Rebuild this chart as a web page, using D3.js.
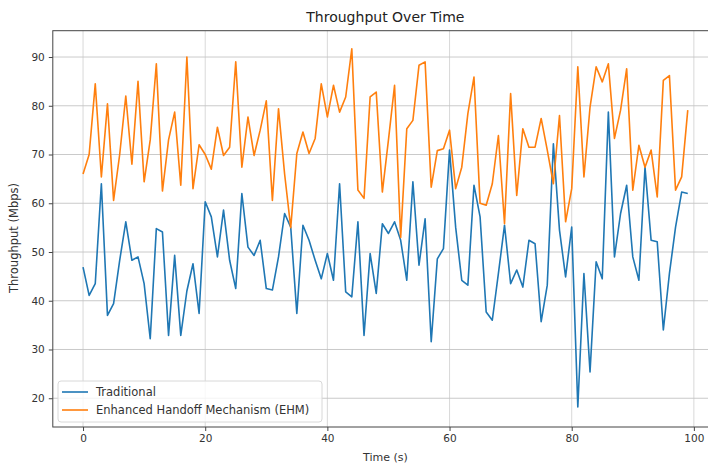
<!DOCTYPE html>
<html>
<head>
<meta charset="utf-8">
<script src="https://cdn.jsdelivr.net/npm/d3@7"></script>
<style>
  body { margin: 0; background: #fff; }
  svg { display: block; font-family: "DejaVu Sans", sans-serif; }
</style>
</head>
<body>
<div id="chart"></div>
<script>
// time axis: 0..99 s
const timeSteps = d3.range(100);

// Traditional throughput (Mbps)
const traditional = [
  46.9, 41.1, 43.5, 64, 37, 39.4, 48.3, 56.2, 48.3, 49,
  43.5, 32.2, 54.8, 54.1, 32.9, 49.3, 32.9, 42, 47.6, 37.4,
  60.3, 57.2, 49, 58.6, 48.3, 42.5, 62, 51, 49.3, 52.4,
  42.5, 42.2, 49, 57.9, 55.1, 37.4, 55.5, 52.4, 48.3, 44.5,
  49.7, 44.2, 64, 41.8, 40.8, 56.2, 32.9, 49.7, 41.5, 55.8,
  53.8, 56.2, 52.4, 44.2, 64.4, 47.3, 56.8, 31.6, 48.6, 50.7,
  70.9, 55.1, 44.2, 43.2, 63.7, 57.2, 37.7, 36, 45.6, 55.5,
  43.5, 46.3, 42.8, 52.4, 51.7, 35.7, 43.2, 72.2, 54.5, 44.9,
  55.1, 18.2, 45.6, 25.4, 48, 44.5, 78.7, 49, 57.9, 63.7,
  49, 44.2, 67.4, 52.4, 52.1, 34, 45.6, 55.1, 62.3, 62
];

// Enhanced Handoff Mechanism throughput (Mbps)
const ehm = [
  66, 70, 84.5, 65.4, 80.4, 60.6, 70, 82, 68, 85,
  64.4, 73, 88.6, 62.5, 73, 78.7, 63.7, 90, 63, 72,
  70, 67, 75.6, 69.8, 71.5, 89, 67.4, 77.7, 69.8, 75,
  81, 60.6, 79.4, 66, 55, 70.2, 74.6, 70.2, 73.3, 84.5,
  77.7, 84.2, 78.7, 81.8, 91.7, 62.7, 61, 81.8, 82.8, 62.3,
  73, 84.2, 53, 75.3, 77, 88.3, 89, 63.3, 70.8, 71.2,
  75, 63, 67.4, 78.4, 85.9, 60, 59.6, 64, 73.9, 55.8,
  82.5, 61.6, 75.3, 71.5, 71.5, 77.4, 70.9, 64, 78, 56.2,
  63, 88, 65.4, 79.7, 88, 84.9, 88.6, 73.3, 79.1, 87.6,
  62.7, 71.9, 67.4, 70.9, 61.3, 85.2, 86.2, 62.7, 65.4, 79.1
];

const seriesNames = ['Traditional', 'Enhanced Handoff Mechanism (EHM)'];
const seriesColors = ['#1f77b4', '#ff7f0e'];
const xTicks = [0, 20, 40, 60, 80, 100];
const yTicks = [20, 30, 40, 50, 60, 70, 80, 90];

const W = 708, H = 466;
const margin = {top: 30.7, left: 52.8};
const plotRight = 718, plotBottom = 427;

const svg = d3.select('#chart').append('svg')
    .attr('width', W)
    .attr('height', H);

const x = d3.scaleLinear().domain([-4.95, 103.95]).range([margin.left, plotRight]);
const y = d3.scaleLinear().domain([14.1, 95.4]).range([plotBottom, margin.top]);

// grid
svg.append('g').selectAll('line.vg')
    .data(xTicks).join('line')
    .attr('x1', d => x(d)).attr('x2', d => x(d))
    .attr('y1', margin.top).attr('y2', plotBottom)
    .attr('stroke', '#d4d4d4').attr('stroke-width', 0.9);

svg.append('g').selectAll('line.hg')
    .data(yTicks).join('line')
    .attr('x1', margin.left).attr('x2', plotRight)
    .attr('y1', d => y(d)).attr('y2', d => y(d))
    .attr('stroke', '#c4c4c4').attr('stroke-width', 0.9);

// lines
const line = d3.line()
    .x((d, i) => x(timeSteps[i]))
    .y(d => y(d));

[traditional, ehm].forEach((vals, k) => {
    svg.append('path')
        .datum(vals)
        .attr('fill', 'none')
        .attr('stroke', seriesColors[k])
        .attr('stroke-width', 1.6)
        .attr('stroke-linejoin', 'round')
        .attr('d', line);
});

// axes
const xAxis = svg.append('g')
    .attr('transform', `translate(0,${plotBottom})`)
    .call(d3.axisBottom(x).tickValues(xTicks).tickSize(4).tickPadding(4).tickSizeOuter(0));

const yAxis = svg.append('g')
    .attr('transform', `translate(${margin.left},0)`)
    .call(d3.axisLeft(y).tickValues(yTicks).tickSize(4).tickPadding(4).tickSizeOuter(0));

[xAxis, yAxis].forEach(g => {
    g.select('.domain').remove();
    g.selectAll('line').attr('stroke', '#444');
    g.selectAll('text')
        .attr('fill', '#333')
        .style('font-size', '10.5px')
        .style('font-family', '"DejaVu Sans", sans-serif');
});

// frame
svg.append('rect')
    .attr('x', margin.left).attr('y', margin.top)
    .attr('width', plotRight - margin.left)
    .attr('height', plotBottom - margin.top)
    .attr('fill', 'none')
    .attr('stroke', '#444')
    .attr('stroke-width', 1);

// title & labels
svg.append('text')
    .attr('x', (margin.left + plotRight) / 2)
    .attr('y', 22)
    .attr('text-anchor', 'middle')
    .attr('fill', '#222')
    .style('font-size', '14px')
    .text('Throughput Over Time');

svg.append('text')
    .attr('x', (margin.left + plotRight) / 2)
    .attr('y', 461)
    .attr('text-anchor', 'middle')
    .attr('fill', '#333')
    .style('font-size', '11px')
    .text('Time (s)');

svg.append('text')
    .attr('transform', 'translate(18,238) rotate(-90)')
    .attr('text-anchor', 'middle')
    .attr('fill', '#333')
    .style('font-size', '11.5px')
    .text('Throughput (Mbps)');

// legend
const legend = svg.append('g').attr('transform', 'translate(58,381)');
legend.append('rect')
    .attr('width', 264).attr('height', 41)
    .attr('rx', 3)
    .attr('fill', '#fff').attr('fill-opacity', 0.8)
    .attr('stroke', '#d8d8d8');

seriesNames.forEach((name, i) => {
    const row = legend.append('g').attr('transform', `translate(0,${11 + i * 18})`);
    row.append('line')
        .attr('x1', 4).attr('x2', 30)
        .attr('stroke', seriesColors[i]).attr('stroke-width', 1.6);
    row.append('text')
        .attr('x', 38).attr('y', 4)
        .attr('fill', '#333')
        .style('font-size', '11.5px')
        .text(name);
});
</script>
</body>
</html>
